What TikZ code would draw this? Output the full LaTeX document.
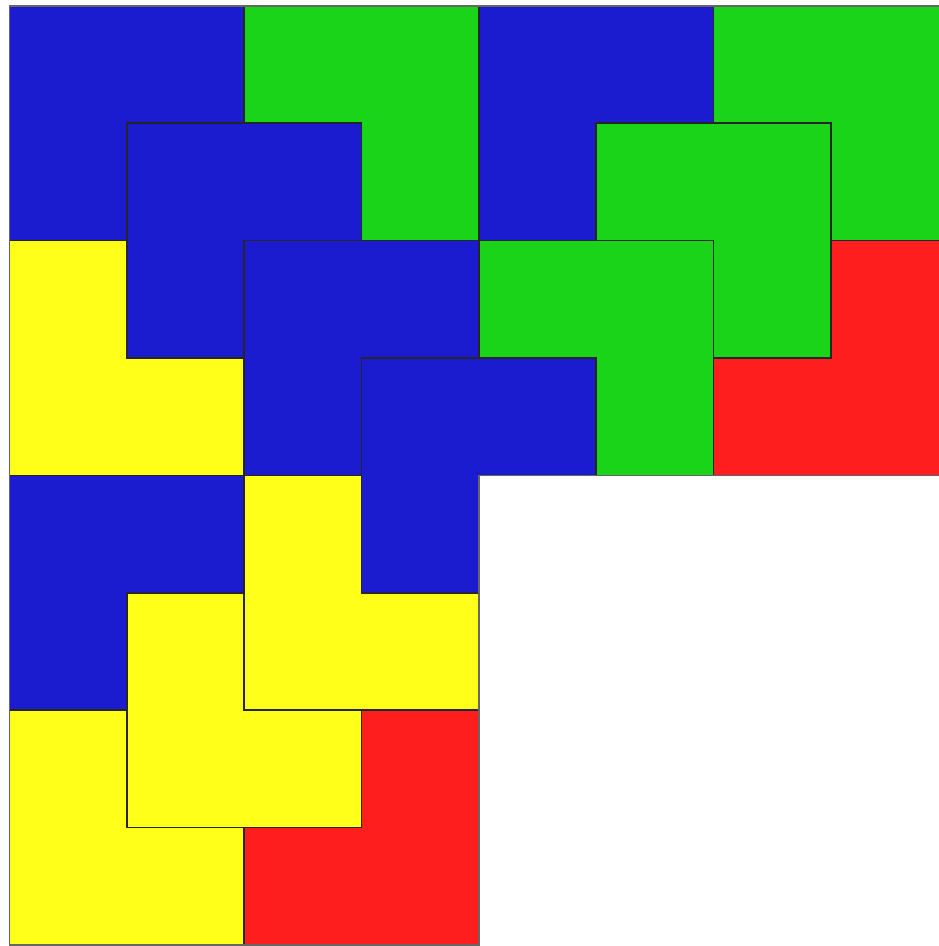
\documentclass[tikz,border=0pt]{standalone}
\usepackage{tikz}

\definecolor{tileblue}{RGB}{27,27,208}
\definecolor{tilegreen}{RGB}{26,212,26}
\definecolor{tileyellow}{RGB}{255,255,26}
\definecolor{tilered}{RGB}{255,30,30}

\begin{document}
\begin{tikzpicture}[x=1cm,y=1cm,
    tile/.style={draw=black!85, line width=0.4pt, line join=miter},
    bluetile/.style={tile, fill=tileblue},
    greentile/.style={tile, fill=tilegreen},
    yellowtile/.style={tile, fill=tileyellow},
    redtile/.style={tile, fill=tilered}]
    % 画布范围（右侧略有裁切）
    \useasboundingbox (-0.08,-0.01) rectangle (7.92,8.05);

    % 蓝色：缺右下角
    \foreach \x/\y in {0/6, 4/6, 1/5, 2/4, 3/3, 0/2}
        \draw[bluetile] (\x,\y) -- ++(0,2) -- ++(2,0) -- ++(0,-1) -- ++(-1,0) -- ++(0,-1) -- cycle;

    % 绿色：缺左下角
    \foreach \x/\y in {2/6, 6/6, 5/5, 4/4}
        \draw[greentile] (\x,\y+1) -- ++(0,1) -- ++(2,0) -- ++(0,-2) -- ++(-1,0) -- ++(0,1) -- cycle;

    % 黄色：缺右上角
    \foreach \x/\y in {0/4, 2/2, 1/1, 0/0}
        \draw[yellowtile] (\x,\y) -- ++(0,2) -- ++(1,0) -- ++(0,-1) -- ++(1,0) -- ++(0,-1) -- cycle;

    % 红色：缺左上角
    \foreach \x/\y in {6/4, 2/0}
        \draw[redtile] (\x,\y) -- ++(2,0) -- ++(0,2) -- ++(-1,0) -- ++(0,-1) -- ++(-1,0) -- cycle;

    % 外边界
    \draw[black!60, line width=0.4pt] (0,0) -- (0,8) -- (8,8) -- (8,4) -- (4,4) -- (4,0) -- cycle;
\end{tikzpicture}
\end{document}
